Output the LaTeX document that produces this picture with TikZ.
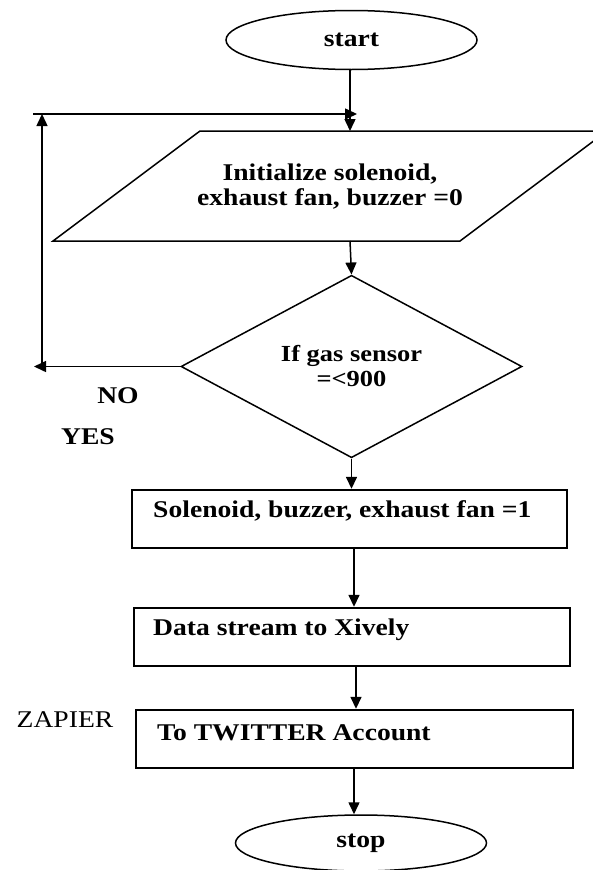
\documentclass[tikz,border=0pt]{standalone}
\usepackage{fontspec}
\setmainfont{Liberation Serif}[FakeStretch=1.15]
\usetikzlibrary{shapes.geometric,arrows.meta,calc}
\tikzset{
  ln/.style={line width=1.5pt, draw=black},
  arr/.style={ln, -{Triangle[length=12pt,width=11pt]}},
  term/.style={ellipse, ln, minimum width=251pt, inner sep=0pt, font=\bfseries\fontsize{24}{28}\selectfont},
  boxnode/.style={rectangle, draw=black, line width=2.4pt, inner sep=0pt},
  txt/.style={font=\bfseries\fontsize{24}{28}\selectfont, inner sep=0pt},
  plain/.style={font=\fontsize{24}{28}\selectfont, inner sep=0pt},
  decision/.style={diamond, ln, inner sep=0pt, minimum width=341pt, minimum height=117pt, align=center, font=\bfseries\fontsize{23}{25}\selectfont}
}
\begin{document}
\begin{tikzpicture}[x=1pt,y=-1pt]
\useasboundingbox (0,0) rectangle (593,870);
\clip (0,0) rectangle (593,870);
\fill[white] (0,0) rectangle (593,870);

% start
\node[term, minimum height=59pt] (start) at (351.5,40) {start};

% parallelogram (input)
\coordinate (pTL) at (200,131);
\coordinate (pTR) at (607,131);
\coordinate (pBR) at (460,241);
\coordinate (pBL) at (53,241);
\draw[ln] (pTL) -- (pTR) -- (pBR) -- (pBL) -- cycle;
\node[txt, align=center] (init) at (330,187) {Initialize solenoid,\\[-3pt]exhaust fan, buzzer =0};
\coordinate (pTop) at (350,131);
\coordinate (pBot) at (350,241);

% decision
\node[decision] (dec) at (351.5,366.5) {If gas sensor\\=<900};

% boxes
\node[boxnode, minimum width=435pt, minimum height=58pt] (b1) at (349.5,519) {};
\node[txt, anchor=west] (t1) at (153,511) {Solenoid, buzzer, exhaust fan =1};
\node[boxnode, minimum width=436pt, minimum height=58pt] (b2) at (352,637) {};
\node[txt, anchor=west] (t2) at (153,630) {Data stream to Xively};
\node[boxnode, minimum width=437pt, minimum height=58pt] (b3) at (354.5,739) {};
\node[txt, anchor=west] (t3) at (157,733) {To TWITTER Account};

% stop
\node[term, minimum height=56pt] (stop) at (361,843) {stop};

% side labels
\node[txt] (no) at (118,396) {NO};
\node[txt] (yes) at (88,437) {YES};
\node[plain] (zap) at (65,720) {ZAPIER};

% connectors
\draw[arr] (start.south -| pTop) -- (pTop);
\draw[arr] (pBot) -- (dec.north);
\draw[arr] (dec.south) -- (b1.north -| dec.south);
\draw[arr] (b1.south -| 354,0) -- (b2.north -| 354,0);
\draw[arr] (b2.south -| 356,0) -- (b3.north -| 356,0);
\draw[arr] (b3.south -| 354,0) -- (stop.north -| 354,0);

% loop back
\coordinate (lA) at (34,366.5);
\coordinate (lB) at (42,366.5);
\coordinate (lC) at (42,114);
\coordinate (lD) at (33,114);
\coordinate (lE) at (357,114);
\draw[arr] (dec.west) -- (lA);
\draw[arr] (lB) -- (lC);
\draw[arr] (lD) -- (lE);
\end{tikzpicture}
\end{document}
